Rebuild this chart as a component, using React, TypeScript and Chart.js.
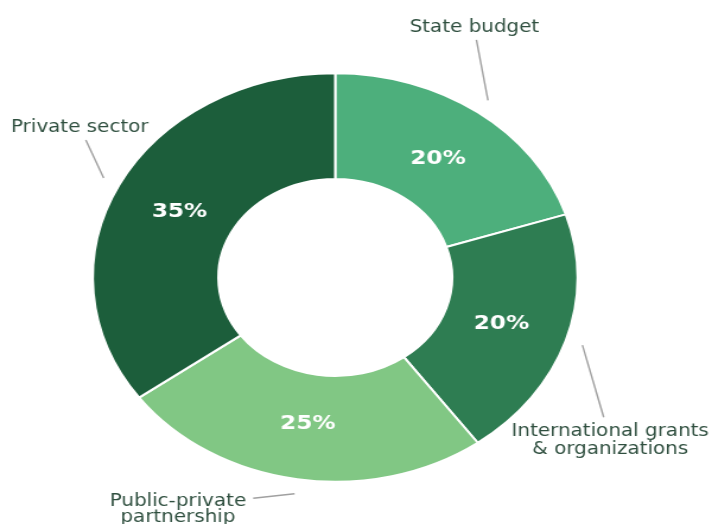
import React, { useEffect, useRef } from "react";
import { Chart, registerables } from "chart.js";

Chart.register(...registerables);

// ---- data ----
const categories = [
  "State budget",
  "International grants & organizations",
  "Public-private partnership",
  "Private sector",
];
const labelLines = [
  ["State budget"],
  ["International grants", "& organizations"],
  ["Public-private", "partnership"],
  ["Private sector"],
];
const shares = [20, 20, 25, 35];
const sliceColors = ["#4daf7c", "#2e7d52", "#81c784", "#1c5e3b"];

// ---- layout (drawing canvas is stretched horizontally to the view) ----
const CANVAS_W = 600;
const CANVAS_H = 524;
const VIEW_W = 712;
const VIEW_H = 524;

const FONT = "'DejaVu Sans', 'Noto Sans', sans-serif";

const calloutPlugin = {
  id: "callouts",
  afterDatasetsDraw(chart: any, _args: any, opts: any) {
    const ctx = chart.ctx;
    const meta = chart.getDatasetMeta(0);
    const ds = chart.data.datasets[0];
    meta.data.forEach((arc: any, i: number) => {
      const p = arc.getProps(
        ["x", "y", "startAngle", "endAngle", "innerRadius", "outerRadius"],
        true
      );
      const mid = (p.startAngle + p.endAngle) / 2;
      const R = p.outerRadius;
      const rm = R * opts.pctRadius;
      ctx.save();
      // percentage inside the slice
      ctx.fillStyle = "#ffffff";
      ctx.font = `bold 19.5px ${FONT}`;
      ctx.textAlign = "center";
      ctx.textBaseline = "middle";
      ctx.fillText(
        `${ds.data[i]}%`,
        p.x + Math.cos(mid) * rm,
        p.y + Math.sin(mid) * rm + 1
      );
      // leader line
      const c = opts.callouts[i];
      const sx = p.x + Math.cos(mid) * R * opts.lineStart;
      const sy = p.y + Math.sin(mid) * R * opts.lineStart;
      const ea = mid + (c.angle * Math.PI) / 180;
      const ex = p.x + Math.cos(ea) * R * c.r;
      const ey = p.y + Math.sin(ea) * R * c.r;
      ctx.strokeStyle = opts.lineColor;
      ctx.lineWidth = 1.4;
      ctx.beginPath();
      ctx.moveTo(sx, sy);
      ctx.lineTo(ex, ey);
      ctx.stroke();
      // outside label
      ctx.fillStyle = opts.textColor;
      ctx.font = `16.8px ${FONT}`;
      ctx.textAlign = "center";
      ctx.textBaseline = "alphabetic";
      const lines = labelLines[i];
      lines.forEach((ln: string, k: number) => {
        ctx.fillText(ln, ex + c.dx, ey + c.dy + k * c.lh);
      });
      ctx.restore();
    });
  },
};

export default function App() {
  const ref = useRef<HTMLCanvasElement | null>(null);

  useEffect(() => {
    if (!ref.current) return;
    const chart = new Chart(ref.current, {
      type: "doughnut",
      data: {
        labels: categories,
        datasets: [
          {
            data: shares,
            backgroundColor: sliceColors,
            borderColor: "#ffffff",
            borderWidth: 2,
            clip: false as any,
          },
        ],
      },
      options: {
        responsive: false,
        animation: false,
        devicePixelRatio: 1,
        radius: 204.3,
        cutout: "48.2%",
        layout: { padding: { left: 0, right: 35, top: 31, bottom: 0 } },
        plugins: {
          legend: { display: false },
          tooltip: { enabled: false },
          title: { display: false },
          callouts: {
            pctRadius: 0.721,
            lineStart: 1.072,
            lineColor: "#a0a0a0",
            textColor: "#2f4f3f",
            callouts: [
              { r: 1.3005, angle: -9.4, dx: -1.7, dy: -8.3, lh: 18 },
              { r: 1.3015, angle: 13.7, dx: 5.5, dy: 18.4, lh: 18.6 },
              { r: 1.132, angle: 8.4, dx: -63.4, dy: 7.4, lh: 16 },
              { r: 1.2296, angle: 6.2, dx: -5.1, dy: -8.3, lh: 18 },
            ],
          },
        } as any,
      },
      plugins: [calloutPlugin as any],
    });
    return () => chart.destroy();
  }, []);

  return (
    <div
      style={{
        position: "fixed",
        left: 0,
        top: 0,
        width: VIEW_W,
        height: VIEW_H,
        background: "#ffffff",
        overflow: "hidden",
      }}
    >
      <canvas
        ref={ref}
        width={CANVAS_W}
        height={CANVAS_H}
        style={{ width: `${VIEW_W}px`, height: `${VIEW_H}px`, display: "block" }}
      />
    </div>
  );
}
